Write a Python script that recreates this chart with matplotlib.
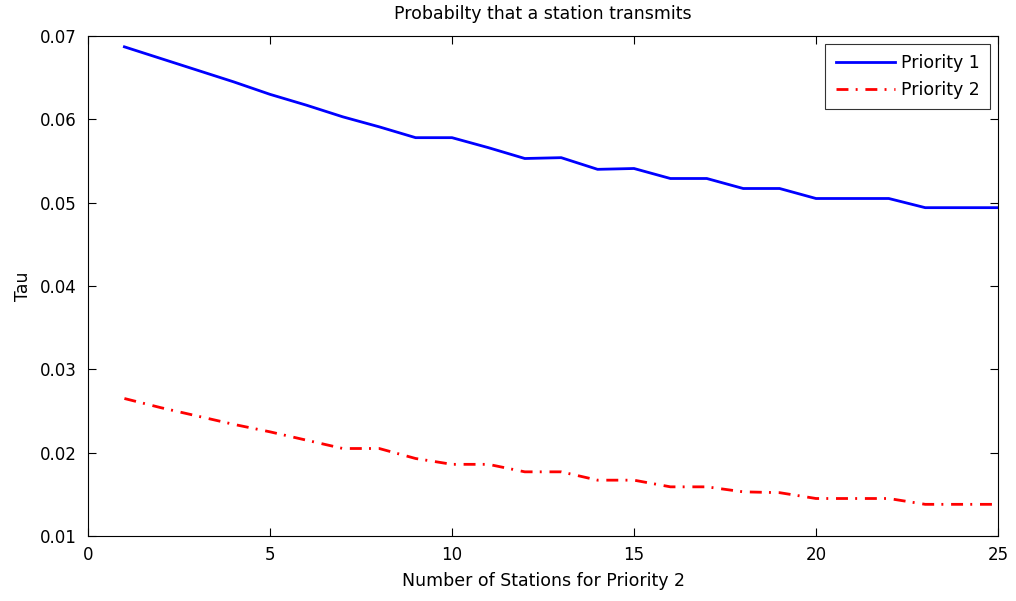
import matplotlib
matplotlib.use("Agg")
import matplotlib.pyplot as plt

plt.rcParams['font.family'] = ['DejaVu Sans']

stations = list(range(1, 26))
tau_priority1 = [0.0687, 0.0673, 0.0659, 0.0645, 0.0630, 0.0617, 0.0603, 0.0591, 0.0578,
                 0.0578, 0.0566, 0.0553, 0.0554, 0.0540, 0.0541, 0.0529, 0.0529, 0.0517,
                 0.0517, 0.0505, 0.0505, 0.0505, 0.0494, 0.0494, 0.0494]
tau_priority2 = [0.0265, 0.0254, 0.0244, 0.0234, 0.0225, 0.0215, 0.0205, 0.0205, 0.0193,
                 0.0186, 0.0186, 0.0177, 0.0177, 0.0167, 0.0167, 0.0159, 0.0159, 0.0153,
                 0.0152, 0.0145, 0.0145, 0.0145, 0.0138, 0.0138, 0.0138]
series_labels = ['Priority 1', 'Priority 2']
x_ticks = [0, 5, 10, 15, 20, 25]
y_ticks = [0.01, 0.02, 0.03, 0.04, 0.05, 0.06, 0.07]

fig = plt.figure(figsize=(10.16, 6.01), dpi=100)
ax = fig.add_axes([88 / 1016, 1 - 536 / 601, 910 / 1016, 500 / 601])

ax.plot(stations, tau_priority1, color='#0000ff', linewidth=2.0, label=series_labels[0])
ax.plot(stations, tau_priority2, color='#ff0000', linewidth=2.0,
        linestyle=(0, (4.3, 2.6, 0.7, 2.8)), label=series_labels[1])

ax.set_xlim(0, 25)
ax.set_ylim(0.01, 0.07)
ax.set_xticks(x_ticks)
ax.set_yticks(y_ticks)
ax.set_xticklabels([str(t) for t in x_ticks])
ax.set_yticklabels([f'{t:.2f}' for t in y_ticks])
ax.tick_params(direction='in', top=True, right=True, length=6, width=0.8, labelsize=12)
ax.tick_params(axis='y', pad=8)
ax.tick_params(axis='x', pad=7)
for s in ax.spines.values():
    s.set_linewidth(0.8)

ax.set_title('Probabilty that a station transmits', fontsize=12.5, pad=12)
ax.set_xlabel('Number of Stations for Priority 2', fontsize=12.5, labelpad=6)
ax.set_ylabel('Tau', fontsize=12.5, labelpad=6)

leg = ax.legend(loc='upper right', fontsize=12.5, frameon=True, fancybox=False,
                edgecolor='black', handlelength=3.4, handletextpad=0.35,
                borderaxespad=0.45, borderpad=0.6, labelspacing=0.5)
leg.get_frame().set_linewidth(0.8)

fig.savefig('out.png', dpi=100)
